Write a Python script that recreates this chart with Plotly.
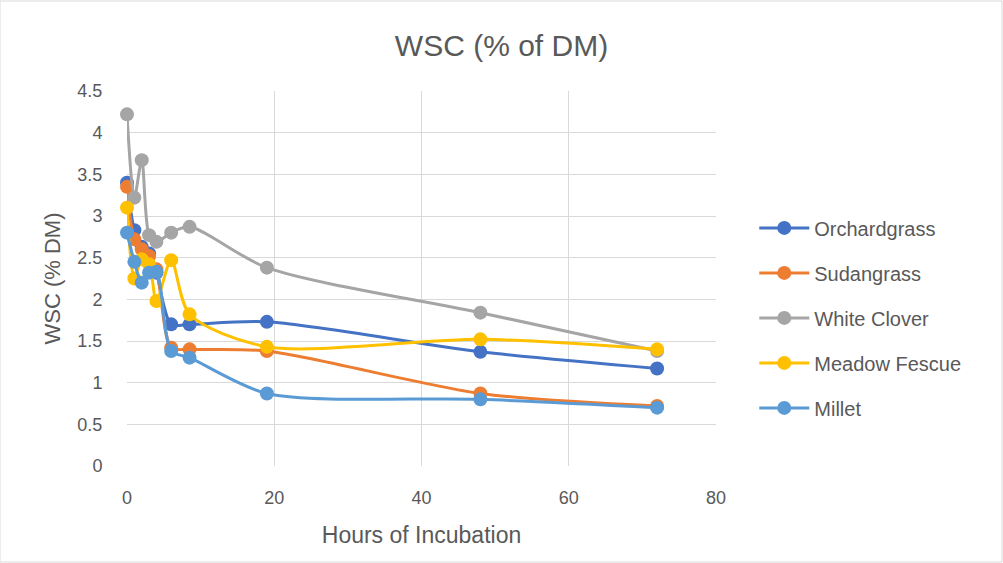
import plotly.graph_objects as go

hours = [0, 1, 2, 3, 4, 6, 8.5, 19, 48, 72]
orchardgrass = [3.40, 2.83, 2.63, 2.55, 2.32, 1.70, 1.70, 1.73, 1.37, 1.17]
sudangrass = [3.35, 2.72, 2.60, 2.52, 2.36, 1.42, 1.40, 1.38, 0.87, 0.72]
white_clover = [4.22, 3.22, 3.67, 2.77, 2.69, 2.80, 2.87, 2.38, 1.84, 1.38]
meadow_fescue = [3.10, 2.25, 2.48, 2.42, 1.98, 2.47, 1.82, 1.43, 1.52, 1.40]
millet = [2.80, 2.45, 2.20, 2.32, 2.33, 1.38, 1.30, 0.87, 0.80, 0.70]

series = [
    ("Orchardgrass", orchardgrass, "#4472C4"),
    ("Sudangrass", sudangrass, "#ED7D31"),
    ("White Clover", white_clover, "#A5A5A5"),
    ("Meadow Fescue", meadow_fescue, "#FFC000"),
    ("Millet", millet, "#5B9BD5"),
]

font_family = "Liberation Sans, Open Sans, sans-serif"
fig = go.Figure()
for i, (name, vals, col) in enumerate(series):
    fig.add_trace(go.Scatter(
        x=hours, y=vals, name=name, mode="lines+markers",
        line=dict(color=col, width=3, shape="spline", smoothing=0.8),
        marker=dict(color=col, size=14),
        cliponaxis=False, legendgroup=f"g{i}",
    ))

fig.update_layout(
    width=1003, height=563,
    paper_bgcolor="white", plot_bgcolor="white",
    margin=dict(l=127, r=287, t=91, b=97),
    title=dict(text="WSC (% of DM)", x=0.5, xanchor="center", y=0.92, yanchor="middle",
               font=dict(family=font_family, size=30, color="#595959")),
    font=dict(family=font_family, color="#595959"),
    legend=dict(x=1.065, y=0.395, xanchor="left", yanchor="middle",
                font=dict(size=20, color="#595959"), tracegroupgap=16, itemwidth=50),
    showlegend=True,
)
fig.update_xaxes(range=[0, 80], dtick=20, showgrid=True, gridcolor="#D9D9D9", gridwidth=1,
                 zeroline=False, showline=False, ticks="outside", ticklen=15,
                 tickcolor="rgba(0,0,0,0)",
                 tickfont=dict(size=18, color="#595959"),
                 title=dict(text="Hours of Incubation", font=dict(size=23, color="#595959"), standoff=20))
fig.update_yaxes(range=[0, 4.5], dtick=0.5, showgrid=True, gridcolor="#D9D9D9", gridwidth=1,
                 zeroline=False, showline=False, ticks="outside", ticklen=20,
                 tickcolor="rgba(0,0,0,0)",
                 tickfont=dict(size=18, color="#595959"),
                 title=dict(text="WSC (% DM)", font=dict(size=22, color="#595959"), standoff=10))
fig.add_shape(type="rect", xref="paper", yref="paper", x0=-127/589, x1=1 + 286/589,
              y0=-96/375, y1=1 + 90/375, line=dict(color="#D9D9D9", width=1))
fig.write_html("out.html")
